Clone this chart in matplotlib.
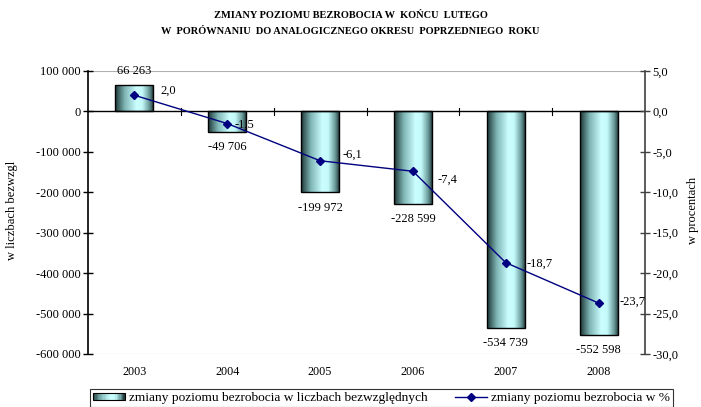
import matplotlib
matplotlib.use("Agg")
import matplotlib.pyplot as plt
import numpy as np
from matplotlib.colors import LinearSegmentedColormap
from matplotlib.patches import Rectangle
from matplotlib.lines import Line2D
from matplotlib.legend_handler import HandlerBase

years = ["2003", "2004", "2005", "2006", "2007", "2008"]
abs_change = [66263, -49706, -199972, -228599, -534739, -552598]
pct_change = [2.0, -1.5, -6.1, -7.4, -18.7, -23.7]
left_ticks = [100000, 0, -100000, -200000, -300000, -400000, -500000, -600000]
right_ticks = [5.0, 0.0, -5.0, -10.0, -15.0, -20.0, -25.0, -30.0]

title_l1 = "ZMIANY POZIOMU BEZROBOCIA W  KOŃCU  LUTEGO"
title_l2 = "W  PORÓWNANIU  DO ANALOGICZNEGO OKRESU  POPRZEDNIEGO  ROKU"
legend_bar = "zmiany poziomu bezrobocia w liczbach bezwzględnych"
legend_line = "zmiany poziomu bezrobocia w %"

plt.rcParams['font.family'] = ['Liberation Serif', 'DejaVu Serif']

def fmt_thousands(v):
    s = f"{abs(int(v)):,}".replace(",", " ")
    return ("-" if v < 0 else "") + s

def fmt_dec(v):
    return f"{v:.1f}".replace(".", ",")

fig = plt.figure(figsize=(7.01, 4.07), dpi=100)
ax = fig.add_axes([88/701, 1-354/407, (645-88)/701, (354-71)/407])
ax2 = ax.twinx()

x = np.arange(len(years))
bar_w = 0.41
cmap = LinearSegmentedColormap.from_list("cyl", [
    (0.0, "#1c3434"), (0.25, "#7fb5b5"), (0.55, "#ccffff"),
    (0.7, "#c4fafa"), (0.88, "#6a9a9a"), (1.0, "#1a2e2e")])
grad = np.linspace(0, 1, 256).reshape(1, -1)

bars = ax.bar(x, abs_change, width=bar_w, color="none", edgecolor="black",
              linewidth=1.0, zorder=3)
for b in bars:
    x0 = b.get_x(); w = b.get_width()
    y0 = b.get_y(); h = b.get_height()
    im = ax.imshow(grad, cmap=cmap, aspect="auto",
                   extent=[x0, x0 + w, y0, y0 + h], zorder=2,
                   interpolation="bilinear")
    im.set_clip_path(b)

ax.set_xlim(-0.5, len(years) - 0.5)
ax.set_ylim(-600000, 100000)
ax.set_yticks(left_ticks)
ax.set_yticklabels([fmt_thousands(v) for v in left_ticks], fontsize=9)
ax.tick_params(axis='y', direction='inout', length=7, width=1, pad=2)

ax2.set_ylim(-30, 5)
ax2.set_yticks(right_ticks)
ax2.set_yticklabels([fmt_dec(v) for v in right_ticks], fontsize=9)
ax2.tick_params(axis='y', direction='inout', length=7, width=1, pad=2,
                color="#404040")

for sp in ["top", "bottom"]:
    ax.spines[sp].set_visible(False)
    ax2.spines[sp].set_visible(False)
ax.spines["right"].set_visible(False)
ax2.spines["left"].set_visible(False)
ax2.spines["right"].set_color("#404040")
ax.spines["left"].set_linewidth(1.2)
ax2.spines["right"].set_linewidth(1.2)

ax.axhline(100000, color="#b0b0b0", lw=0.8, zorder=1)
ax.axhline(-600000, color="#b0b0b0", lw=0.8, zorder=1)
ax.axhline(0, color="black", lw=1.0, zorder=4)
for bnd in np.arange(0.5, len(years) - 0.5, 1.0):
    ax.plot([bnd, bnd], [-9000, 9000], color="black", lw=0.8, zorder=4)

ax.set_xticks([])
for xi, lab in zip(x, years):
    ax.text(xi, -0.065, lab, transform=ax.get_xaxis_transform(),
            ha="center", va="center", fontsize=8.7)

for xi, v in zip(x, abs_change):
    off = (0, 10) if v >= 0 else (0, -11)
    ax.annotate(fmt_thousands(v), (xi, v), xytext=off,
                textcoords="offset points", ha="center", va="center",
                fontsize=9)

ax2.plot(x, pct_change, color="#000080", lw=1.0, marker="D", markersize=4.5,
         markerfacecolor="#000080", markeredgecolor="#000080", zorder=5)
ax2.set_zorder(ax.get_zorder() + 1)
ax2.patch.set_visible(False)

pct_offsets = [(19, 3), (5, -1), (16, 4), (18, -6), (15, -1), (15, 1)]
for xi, v, off in zip(x, pct_change, pct_offsets):
    ax2.annotate(fmt_dec(v), (xi, v), xytext=off, textcoords="offset points",
                 ha="left", va="center", fontsize=9)

fig.text(12/701, 1-210/407, "w liczbach bezwzgl", rotation=90,
         ha="center", va="center", fontsize=9)
fig.text(693/701, 1-210/407, "w procentach", rotation=90,
         ha="center", va="center", fontsize=9)

fig.text(0.5, 1-15/407, title_l1, ha="center", va="center",
         fontsize=7.5, fontweight="bold")
fig.text(0.5, 1-32/407, title_l2, ha="center", va="center",
         fontsize=7.5, fontweight="bold")


class GradientHandler(HandlerBase):
    def create_artists(self, legend, orig_handle, xdescent, ydescent,
                       width, height, fontsize, trans):
        arts = []
        n = 24
        hh = height * 0.75
        y0 = -ydescent + (height - hh) / 2
        for i in range(n):
            c = cmap((i + 0.5) / n)
            r = Rectangle((-xdescent + width * i / n, y0), width / n + 0.2, hh,
                          facecolor=c, edgecolor="none", transform=trans)
            arts.append(r)
        arts.append(Rectangle((-xdescent, y0), width, hh, facecolor="none",
                              edgecolor="black", lw=0.8, transform=trans))
        return arts


h1 = Rectangle((0, 0), 1, 1, facecolor="#7fc8c8", edgecolor="black", lw=0.8)
h2 = Line2D([], [], color="#000080", lw=1.0, marker="D", markersize=4.5)
leg = fig.legend([h1, h2], [legend_bar, legend_line], ncol=2,
                 loc="lower left",
                 bbox_to_anchor=(90/701, 0.0, 583/701, 20/407),
                 mode="expand", fontsize=9.6, frameon=True, fancybox=False,
                 edgecolor="black", borderpad=0.2, handlelength=2.4,
                 handletextpad=0.3, columnspacing=2.0, borderaxespad=0,
                 handler_map={Rectangle: GradientHandler()})
leg.get_frame().set_linewidth(0.8)

fig.savefig("out.png", dpi=100)
